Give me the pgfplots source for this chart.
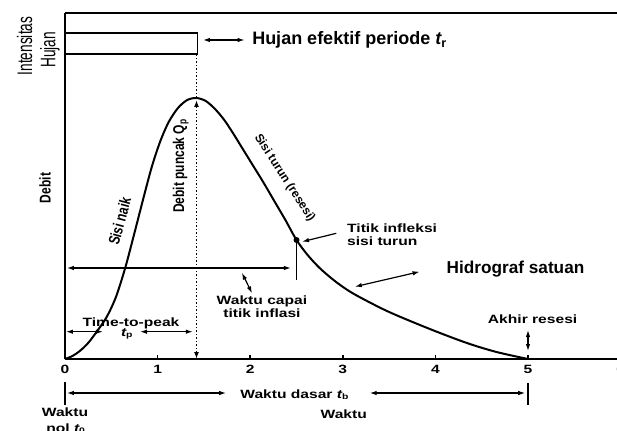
\documentclass[border=0pt]{standalone}
\usepackage{fontspec}
\setmainfont{Liberation Sans}
\newfontfamily\wide{Liberation Sans}[FakeStretch=1.3]
\newfontfamily\narrow{Liberation Sans}[FakeStretch=0.77]
\newfontfamily\vnarrow{Liberation Sans}[FakeStretch=0.65]
\usepackage{graphicx}
\usepackage{pgfplots}
\pgfplotsset{compat=1.18}
\usetikzlibrary{arrows.meta}
\newcommand{\wf}{\wide\bfseries\fontsize{12}{13}\selectfont}
\newcommand{\nf}{\narrow\bfseries\fontsize{15.6}{16}\selectfont}
\begin{document}
\begin{tikzpicture}[
  arr/.style={line width=1.2pt,{Latex[length=7pt,width=4.5pt]}-{Latex[length=7pt,width=4.5pt]}},
  sarr/.style={line width=1.2pt,-{Latex[length=7pt,width=4.5pt]}}]
\begin{axis}[
  x=92.6pt, y=1pt,
  xmin=0, xmax=6.05, ymin=0, ymax=346,
  axis x line*=bottom, axis y line*=left,
  axis line style={line width=2pt},
  clip=false,
  ytick=\empty,
  xtick={0,1,2,3,4,5,6},
  xticklabels={0,1,2,3,4,5,6},
  tick align=inside,
  major tick length=4pt,
  tick style={line width=1.5pt,black},
  xticklabel style={font=\wf, yshift=-3pt},
]
% rainfall block
\draw[line width=1.5pt] (axis cs:0,305) rectangle (axis cs:1.43,326);
\draw[line width=1.8pt] (axis cs:0,346) -- (axis cs:6.05,346);
% hydrograph
\addplot[smooth, line width=2pt, black] coordinates {
(0,0) (0.08,3) (0.16,8) (0.25,16) (0.34,27) (0.45,42) (0.55,62) (0.65,91)
(0.75,126) (0.85,162) (0.94,193) (1.03,218) (1.12,237) (1.22,251) (1.32,259) (1.42,261)
(1.52,258) (1.62,250) (1.72,239) (1.82,225) (1.92,210) (2.02,195) (2.14,177)
(2.26,158) (2.38,139) (2.50,119) (2.62,104) (2.75,91) (2.9,79) (3.05,69) (3.2,61)
(3.5,47) (3.94,30) (4.34,16) (4.66,7) (5.0,0)};
% dotted peak line
\draw[line width=1.6pt, dash pattern=on 1.5pt off 2pt] (axis cs:1.42,261) -- (axis cs:1.42,305);
\draw[line width=1.6pt, dash pattern=on 1.5pt off 2pt, {Latex[length=7pt,width=5pt]}-{Latex[length=7pt,width=5pt]}] (axis cs:1.42,0) -- (axis cs:1.42,259);
% inflection
\fill (axis cs:2.5,119) circle (3pt);
\draw[line width=1.5pt] (axis cs:2.5,79) -- (axis cs:2.5,119);
\draw[arr] (axis cs:0.02,91) -- (axis cs:2.44,91);
\draw[sarr] (axis cs:2.93,125.7) -- (axis cs:2.56,117.3);
% arrows
\draw[arr] (axis cs:1.49,319) -- (axis cs:1.94,319);
\draw[arr] (axis cs:1.91,86.3) -- (axis cs:2.02,65.7);
\draw[arr] (axis cs:3.13,72.3) -- (axis cs:3.83,87.3);
\draw[arr] (axis cs:0.01,27.3) -- (axis cs:0.41,27.3);
\draw[arr] (axis cs:0.81,27.3) -- (axis cs:1.38,27.3);
\draw[arr] (axis cs:5.0,29) -- (axis cs:5.0,8);
% below axis
\draw[line width=2pt] (axis cs:0,-23) -- (axis cs:0,-46);
\draw[line width=2pt] (axis cs:5.0,-24) -- (axis cs:5.0,-46);
\draw[arr] (axis cs:0.02,-34) -- (axis cs:1.74,-34);
\draw[arr] (axis cs:3.29,-34) -- (axis cs:4.97,-34);
% texts
\node[rotate=90, font=\vnarrow\fontsize{21}{22}\selectfont, inner sep=0] at (axis cs:-0.437,313) {Intensitas};
\node[rotate=90, font=\vnarrow\fontsize{21}{22}\selectfont, inner sep=0] at (axis cs:-0.162,309) {Hujan};
\node[rotate=90, font=\nf, inner sep=0] at (axis cs:-0.216,171) {Debit};
\node[rotate=90, font=\nf, inner sep=0] at (axis cs:1.25,193) {Debit puncak Q\textsubscript{p}};
\node[rotate=75, font=\nf, inner sep=0] at (axis cs:0.59,138) {Sisi naik};
\node[rotate=-57, font=\bfseries\fontsize{12}{13}\selectfont, inner sep=0] at (axis cs:2.37,181) {Sisi turun (resesi)};
\node[anchor=base west, font=\bfseries\fontsize{18}{20}\selectfont, inner sep=0] at (axis cs:2.02,314) {Hujan efektif periode {\itshape t}\textsubscript{r}};
\node[anchor=base west, font=\bfseries\fontsize{17.2}{18}\selectfont, inner sep=0] at (axis cs:4.12,85.7) {Hidrograf satuan};
\node[anchor=base west, font=\wf, inner sep=0] at (axis cs:3.045,127) {Titik infleksi};
\node[anchor=base west, font=\wf, inner sep=0] at (axis cs:3.045,114) {sisi turun};
\node[anchor=base, font=\wf, inner sep=0] at (axis cs:2.127,55) {Waktu capai};
\node[anchor=base, font=\wf, inner sep=0] at (axis cs:2.127,42) {titik inflasi};
\node[anchor=base, font=\wf, inner sep=0] at (axis cs:0.713,33) {Time-to-peak};
\node[anchor=base, font=\wf, inner sep=0] at (axis cs:0.67,23) {{\itshape t}\textsubscript{p}};
\node[anchor=base, font=\wf, inner sep=0] at (axis cs:5.05,35.7) {Akhir resesi};
\node[anchor=base, font=\wf, inner sep=0] at (axis cs:2.48,-39) {Waktu dasar {\itshape t}\textsubscript{b}};
\node[anchor=base, font=\wf, inner sep=0] at (axis cs:0,-57.7) {Waktu};
\node[anchor=base, font=\wf, inner sep=0] at (axis cs:0.01,-73) {nol {\itshape t}\textsubscript{0}};
\node[anchor=base, font=\wf, inner sep=0] at (axis cs:3.01,-59) {Waktu};
\coordinate (BL) at (axis cs:-0.7019,-71);
\coordinate (TR) at (axis cs:5.961,359);
\end{axis}
\pgfresetboundingbox
\path[use as bounding box] (BL) rectangle (TR);
\end{tikzpicture}
\end{document}
